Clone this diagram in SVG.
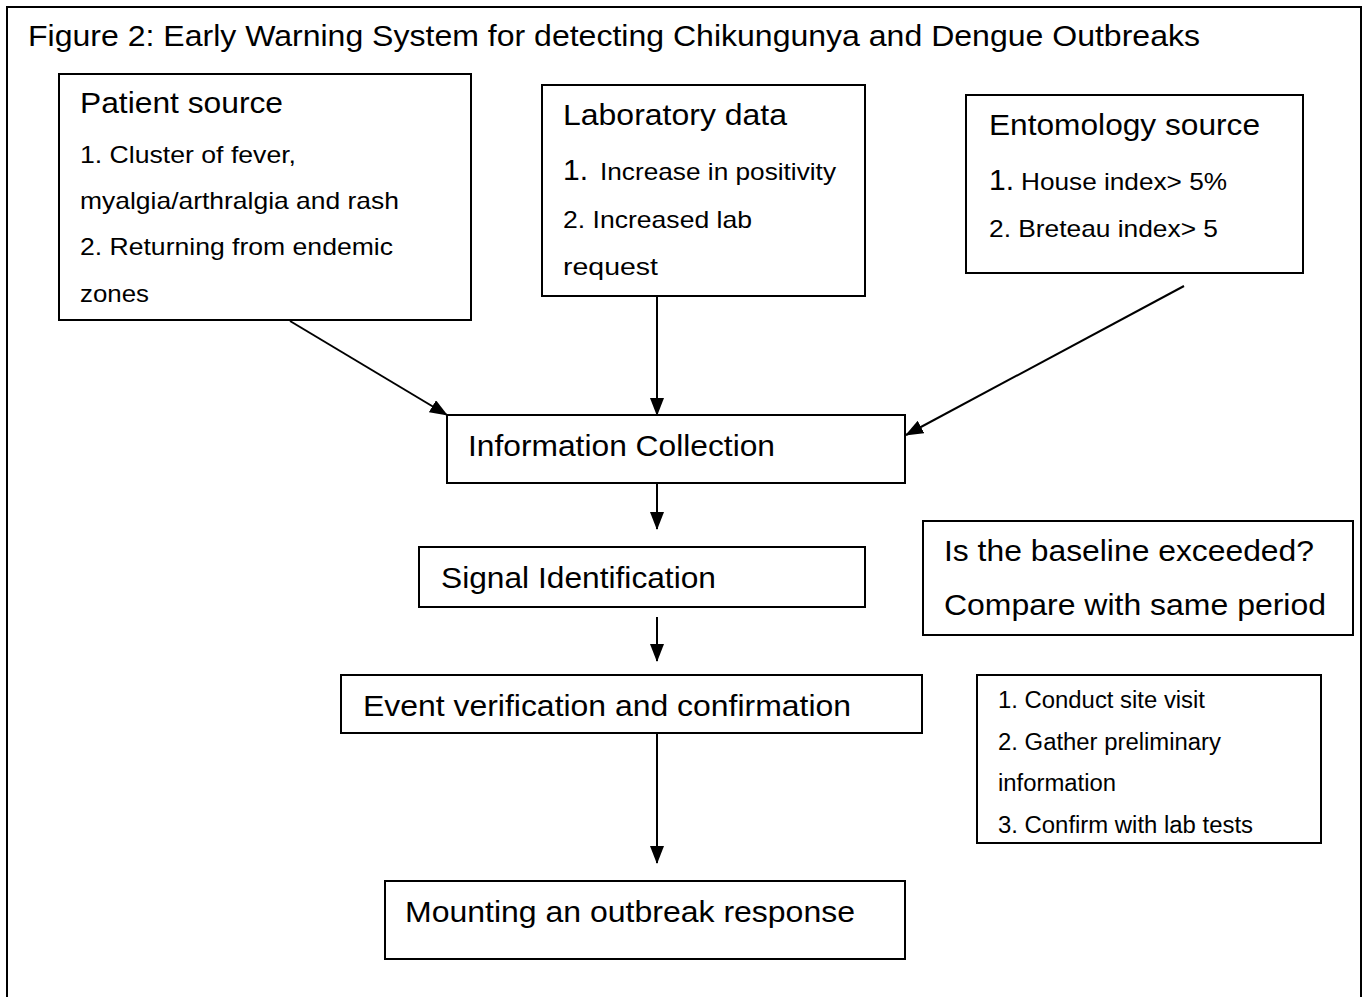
<svg xmlns="http://www.w3.org/2000/svg" width="1367" height="997" viewBox="0 0 1367 997">
<style>
  .box { fill: #ffffff; stroke: #000000; stroke-width: 2; }
  .frame { fill: none; stroke: #000000; stroke-width: 2; }
  text { font-family: "Liberation Sans", Arial, sans-serif; fill: #000000; }
  .big { font-size: 30px; }
  .med { font-size: 24px; }
  .sml { font-size: 23px; }
  .conn { stroke: #000000; stroke-width: 2; fill: none; marker-end: url(#arrow); }
</style>
<defs>
  <marker id="arrow" markerWidth="18" markerHeight="14" refX="17" refY="7" orient="auto" markerUnits="userSpaceOnUse">
    <path d="M0,0 L18,7 L0,14 Z" fill="#000000"/>
  </marker>
</defs>
<rect width="1367" height="997" fill="#ffffff"/>
<path class="frame" d="M7,1000 L7,7 L1361,7 L1361,1000"/>
<text class="big" x="28" y="46" textLength="1172" lengthAdjust="spacingAndGlyphs">Figure 2: Early Warning System for detecting Chikungunya and Dengue Outbreaks</text>

<g id="patient-source">
  <rect class="box" x="59" y="74" width="412" height="246"/>
  <text class="big" x="80" y="113" textLength="203" lengthAdjust="spacingAndGlyphs">Patient source</text>
  <text class="med" x="80" y="163" textLength="216" lengthAdjust="spacingAndGlyphs">1. Cluster of fever,</text>
  <text class="med" x="80" y="209" textLength="319" lengthAdjust="spacingAndGlyphs">myalgia/arthralgia and rash</text>
  <text class="med" x="80" y="255" textLength="313" lengthAdjust="spacingAndGlyphs">2. Returning from endemic</text>
  <text class="med" x="80" y="302" textLength="69" lengthAdjust="spacingAndGlyphs">zones</text>
</g>

<g id="laboratory-data">
  <rect class="box" x="542" y="85" width="323" height="211"/>
  <text class="big" x="563" y="125" textLength="224" lengthAdjust="spacingAndGlyphs">Laboratory data</text>
  <text class="big" x="563" y="180">1.</text>
  <text class="med" x="600" y="180" textLength="236" lengthAdjust="spacingAndGlyphs">Increase in positivity</text>
  <text class="med" x="563" y="228" textLength="189" lengthAdjust="spacingAndGlyphs">2. Increased lab</text>
  <text class="med" x="563" y="275" textLength="95" lengthAdjust="spacingAndGlyphs">request</text>
</g>

<g id="entomology-source">
  <rect class="box" x="966" y="95" width="337" height="178"/>
  <text class="big" x="989" y="135" textLength="271" lengthAdjust="spacingAndGlyphs">Entomology source</text>
  <text class="big" x="989" y="190">1.</text>
  <text class="med" x="1021" y="190" textLength="206" lengthAdjust="spacingAndGlyphs">House index&gt; 5%</text>
  <text class="med" x="989" y="237" textLength="229" lengthAdjust="spacingAndGlyphs">2. Breteau index&gt; 5</text>
</g>

<g id="information-collection">
  <rect class="box" x="447" y="415" width="458" height="68"/>
  <text class="big" x="468" y="456" textLength="307" lengthAdjust="spacingAndGlyphs">Information Collection</text>
</g>

<g id="signal-identification">
  <rect class="box" x="419" y="547" width="446" height="60"/>
  <text class="big" x="441" y="588" textLength="275" lengthAdjust="spacingAndGlyphs">Signal Identification</text>
</g>

<g id="baseline-check">
  <rect class="box" x="923" y="521" width="430" height="114"/>
  <text class="big" x="944" y="561" textLength="370" lengthAdjust="spacingAndGlyphs">Is the baseline exceeded?</text>
  <text class="big" x="944" y="615" textLength="382" lengthAdjust="spacingAndGlyphs">Compare with same period</text>
</g>

<g id="event-verification">
  <rect class="box" x="341" y="675" width="581" height="58"/>
  <text class="big" x="363" y="716" textLength="488" lengthAdjust="spacingAndGlyphs">Event verification and confirmation</text>
</g>

<g id="verification-steps">
  <rect class="box" x="977" y="675" width="344" height="168"/>
  <text class="sml" x="998" y="708" textLength="207" lengthAdjust="spacingAndGlyphs">1. Conduct site visit</text>
  <text class="sml" x="998" y="750" textLength="223" lengthAdjust="spacingAndGlyphs">2. Gather preliminary</text>
  <text class="sml" x="998" y="791" textLength="118" lengthAdjust="spacingAndGlyphs">information</text>
  <text class="sml" x="998" y="833" textLength="255" lengthAdjust="spacingAndGlyphs">3. Confirm with lab tests</text>
</g>

<g id="outbreak-response">
  <rect class="box" x="385" y="881" width="520" height="78"/>
  <text class="big" x="405" y="922" textLength="450" lengthAdjust="spacingAndGlyphs">Mounting an outbreak response</text>
</g>

<g id="connectors">
  <line class="conn" x1="290" y1="321" x2="447" y2="415"/>
  <line class="conn" x1="657" y1="296" x2="657" y2="415"/>
  <line class="conn" x1="1184" y1="286" x2="906" y2="435"/>
  <line class="conn" x1="657" y1="484" x2="657" y2="529"/>
  <line class="conn" x1="657" y1="617" x2="657" y2="661"/>
  <line class="conn" x1="657" y1="734" x2="657" y2="863"/>
</g>
</svg>
